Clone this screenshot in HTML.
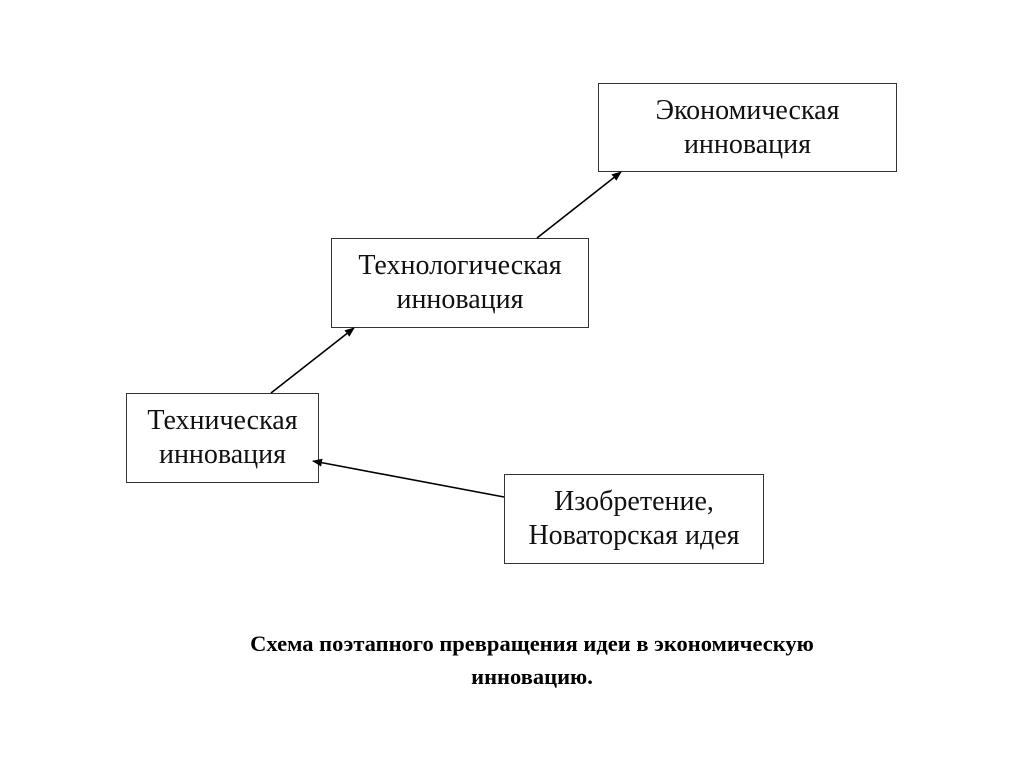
<!DOCTYPE html>
<html><head><meta charset="utf-8"><style>
body{margin:0;width:1024px;height:767px;background:#fff;position:relative;overflow:hidden;font-family:"Liberation Serif",serif;}
.b{position:absolute;border:1.5px solid #333;box-sizing:border-box;display:flex;align-items:center;justify-content:center;text-align:center;font-size:28px;line-height:34px;color:#111;}
.c{position:absolute;left:0;width:1064px;text-align:center;font-weight:bold;font-size:22.5px;line-height:33px;top:627px;}
</style></head><body>
<div class="b" style="left:598px;top:83px;width:299px;height:89px;">Экономическая<br>инновация</div>
<div class="b" style="left:331px;top:238px;width:258px;height:90px;">Технологическая<br>инновация</div>
<div class="b" style="left:126px;top:393px;width:193px;height:90px;">Техническая<br>инновация</div>
<div class="b" style="left:504px;top:474px;width:260px;height:90px;">Изобретение,<br>Новаторская идея</div>
<svg width="1024" height="767" style="position:absolute;left:0;top:0">
<defs><marker id="a" markerWidth="10" markerHeight="8" refX="9" refY="4" orient="auto" markerUnits="userSpaceOnUse"><path d="M0,0 L10,4 L0,8z" fill="#000"/></marker></defs>
<g stroke="#000" stroke-width="1.6">
<line x1="271" y1="393" x2="354" y2="328" marker-end="url(#a)"/>
<line x1="537" y1="238" x2="621" y2="172" marker-end="url(#a)"/>
<line x1="504" y1="497" x2="313" y2="461" marker-end="url(#a)"/>
</g></svg>
<div class="c">Схема поэтапного превращения идеи в экономическую<br>инновацию.</div>
</body></html>
